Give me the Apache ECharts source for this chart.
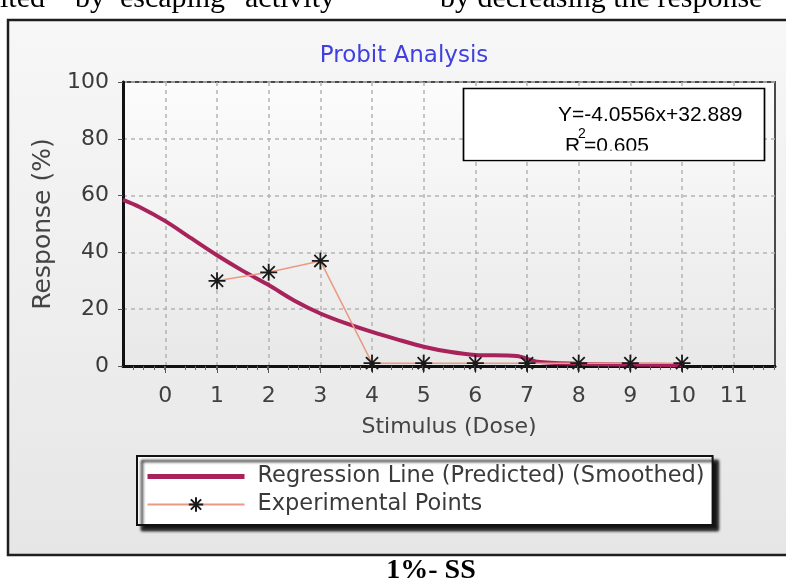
<!DOCTYPE html>
<html>
<head>
<meta charset="utf-8">
<title>Probit Analysis</title>
<script src="https://cdn.jsdelivr.net/npm/echarts@6/dist/echarts.min.js"></script>
<style>
  html, body { margin: 0; padding: 0; background: #fff; }
  #chart { width: 786px; height: 581px; }
</style>
</head>
<body>
<div id="chart"></div>
<script>
// regression curve (predicted, smoothed)
const regressionX = [-0.82, -0.5, 0, 0.5, 1, 1.5, 2, 2.5, 3, 3.5, 4, 4.5, 5, 5.5, 6, 6.8, 7.2, 8, 9, 10];
const regressionY = [58.5, 56, 51, 45, 39, 33.5, 28.5, 23, 18.5, 15, 12, 9.3, 6.8, 5, 3.9, 3.5, 1.5, 0.8, 0.5, 0.3];
// experimental points
const doseX = [1, 2, 3, 4, 5, 6, 7, 8, 9, 10];
const responseY = [30, 33, 37, 1, 1, 1, 1, 1, 1, 1];
// axis ticks
const xTicks = [0, 1, 2, 3, 4, 5, 6, 7, 8, 9, 10, 11];
const yTicks = [0, 20, 40, 60, 80, 100];

const regName = 'Regression Line (Predicted) (Smoothed)';
const expName = 'Experimental Points';
const asterisk = 'path://M0,7L14,7M7,0L7,14M2,2L12,12M12,2L2,12';
const sans = '"DejaVu Sans", Verdana, sans-serif';

const chart = echarts.init(document.getElementById('chart'));

const option = {
  animation: false,
  title: {
    text: 'Probit Analysis',
    left: 404,
    top: 45,
    padding: 0,
    textAlign: 'center',
    textStyle: { color: '#4040e0', fontSize: 23, fontWeight: 'normal', fontFamily: sans }
  },
  grid: {
    left: 123, top: 82, width: 652, height: 284,
    show: true,
    backgroundColor: new echarts.graphic.LinearGradient(0, 0, 0, 1, [
      { offset: 0, color: '#fcfcfc' },
      { offset: 1, color: '#e8e8e8' }
    ]),
    borderColor: '#4a4a4a',
    borderWidth: 2
  },
  xAxis: {
    type: 'value',
    min: -0.82,
    max: 11.8,
    interval: 1,
    name: 'Stimulus (Dose)',
    nameLocation: 'middle',
    nameGap: 50,
    nameTextStyle: { color: '#444', fontSize: 22, fontFamily: sans },
    axisLine: { onZero: false, lineStyle: { color: '#111', width: 3 } },
    axisTick: { show: true, length: 7, customValues: xTicks, lineStyle: { color: '#555', width: 1 } },
    minorTick: { show: true, splitNumber: 5, length: 4, lineStyle: { color: '#666' } },
    axisLabel: {
      customValues: xTicks,
      margin: 19,
      color: '#404040', fontSize: 22, fontFamily: sans,
      formatter: v => String(v)
    },
    splitLine: { show: true, lineStyle: { color: '#b4b4b4', width: 1.5, type: [4, 4] } }
  },
  yAxis: {
    type: 'value',
    min: yTicks[0],
    max: yTicks[yTicks.length - 1],
    interval: yTicks[1] - yTicks[0],
    name: 'Response (%)',
    nameLocation: 'middle',
    nameGap: 60,
    nameTextStyle: { color: '#444', fontSize: 25, fontFamily: sans },
    axisLine: { show: true, onZero: false, lineStyle: { color: '#111', width: 3 } },
    axisTick: { show: true, length: 5, lineStyle: { color: '#555' } },
    axisLabel: { margin: 14, color: '#3a3a3a', fontSize: 22, fontFamily: sans },
    splitLine: { show: true, lineStyle: { color: '#b4b4b4', width: 1.5, type: [4, 4] } }
  },
  legend: {
    orient: 'vertical',
    left: 137,
    top: 456,
    align: 'left',
    padding: [9, 8, 9, 8],
    itemWidth: 97,
    itemHeight: 18,
    itemGap: 5,
    backgroundColor: '#fff',
    borderColor: '#111',
    borderWidth: 2,
    shadowColor: 'rgba(0,0,0,0.9)',
    shadowBlur: 3,
    shadowOffsetX: 5,
    shadowOffsetY: 5,
    textStyle: { color: '#3a3a3a', fontSize: 22.5, fontFamily: sans, lineHeight: 22, padding: [0, 0, 0, 8] },
    data: [
      { name: regName, itemStyle: { opacity: 0 }, lineStyle: { width: 5 } },
      { name: expName }
    ]
  },
  series: [
    {
      name: regName,
      type: 'line',
      smooth: 0.3,
      symbol: 'none',
      z: 3,
      lineStyle: { color: '#a8235c', width: 4 },
      itemStyle: { color: '#a8235c' },
      data: regressionX.map((x, i) => [x, regressionY[i]])
    },
    {
      name: expName,
      type: 'line',
      symbol: asterisk,
      symbolSize: 17,
      z: 4,
      lineStyle: { color: '#e99a80', width: 1.5 },
      itemStyle: { color: '#1a1a1a', borderColor: '#1a1a1a', borderWidth: 1.8 },
      data: doseX.map((x, i) => [x, responseY[i]])
    }
  ],
  graphic: [
    // outer chart frame
    {
      type: 'rect', z: -10,
      shape: { x: 8, y: 20, width: 800, height: 535 },
      style: {
        fill: new echarts.graphic.LinearGradient(0, 0, 0, 1, [
          { offset: 0, color: '#f7f7f7' },
          { offset: 1, color: '#e6e6e6' }
        ]),
        stroke: '#1e1e1e', lineWidth: 2.5
      }
    },
    // surrounding document text
    { type: 'text', x: 0, y: -1, style: { text: 'ited', font: '30px "Liberation Serif", serif', fill: '#000', verticalAlign: 'middle' } },
    { type: 'text', x: 75, y: -1, style: { text: 'by', font: '30px "Liberation Serif", serif', fill: '#000', verticalAlign: 'middle' } },
    { type: 'text', x: 120, y: -1, style: { text: 'escaping', font: '30px "Liberation Serif", serif', fill: '#000', verticalAlign: 'middle' } },
    { type: 'text', x: 245, y: -1, style: { text: 'activity', font: '30px "Liberation Serif", serif', fill: '#000', verticalAlign: 'middle' } },
    { type: 'text', x: 440, y: -1, style: { text: 'by decreasing the response', font: '30px "Liberation Serif", serif', fill: '#000', verticalAlign: 'middle' } },
    { type: 'text', x: 431, y: 571, style: { text: '1%- SS', font: 'bold 28px "Liberation Serif", serif', fill: '#000', align: 'center', verticalAlign: 'middle' } },
    // equation box
    {
      type: 'rect', z: 50,
      shape: { x: 463.5, y: 88.5, width: 301, height: 72 },
      style: { fill: '#fff', stroke: '#000', lineWidth: 1.7 }
    },
    { type: 'text', z: 51, x: 558, y: 115, style: { text: 'Y=-4.0556x+32.889', font: '21px "Liberation Sans", Arial, sans-serif', fill: '#000', verticalAlign: 'middle' } },
    { type: 'text', z: 51, x: 565, y: 146, style: { text: 'R', font: '21px "Liberation Sans", Arial, sans-serif', fill: '#000', verticalAlign: 'middle' } },
    { type: 'text', z: 51, x: 578, y: 134, style: { text: '2', font: '14px "Liberation Sans", Arial, sans-serif', fill: '#000', verticalAlign: 'middle' } },
    { type: 'text', z: 51, x: 584, y: 146, style: { text: '=0.605', font: '21px "Liberation Sans", Arial, sans-serif', fill: '#000', verticalAlign: 'middle' } },
    // text box clipping inside the equation box
    { type: 'rect', z: 52, shape: { x: 465, y: 150.5, width: 298, height: 9 }, style: { fill: '#fff' } }
  ]
};

chart.setOption(option);
</script>
</body>
</html>
